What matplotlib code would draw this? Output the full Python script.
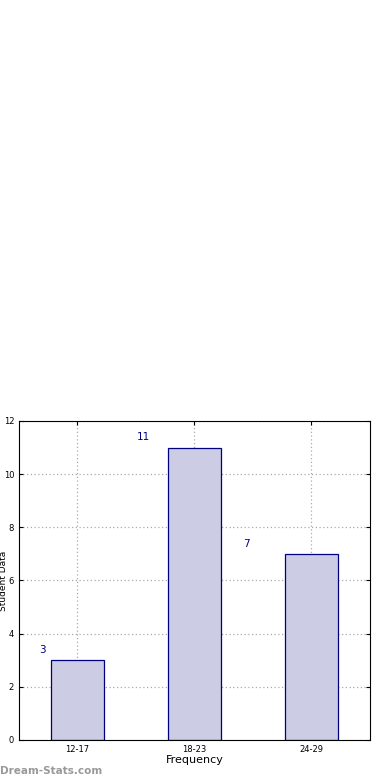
import matplotlib
matplotlib.use('Agg')
import matplotlib.pyplot as plt

# Data
categories = ['12-17', '18-23', '24-29']
counts = [3, 11, 7]
label_shift = [-0.3, -0.44, -0.56]  # where the value labels sit, relative to each bar

fig = plt.figure(figsize=(3.9, 7.8), dpi=100)
ax = fig.add_axes([0.0487, 0.0513, 0.9, 0.409])

positions = list(range(len(categories)))
ax.bar(positions, counts, width=0.45, color='#ccccE4', edgecolor='#000080', linewidth=0.9, zorder=2)

for i, c in enumerate(counts):
    ax.text(i + label_shift[i], c + 0.2, str(c), color='#000080', fontsize=7.5, ha='center', va='bottom')

ax.set_xlim(-0.5, 2.5)
ax.set_ylim(0, 12)
ax.set_xticks(positions)
ax.set_xticklabels(categories)
ax.set_yticks(range(0, 13, 2))
ax.tick_params(axis='both', labelsize=6, direction='in', length=3, top=True, right=True)
ax.grid(True, linestyle=(0, (1, 2)), color='#aaaaaa', linewidth=0.9, zorder=0)
ax.set_axisbelow(True)

ax.set_xlabel('Frequency', fontsize=8, labelpad=1)
ax.set_ylabel('Student Data', fontsize=6.5)
ax.yaxis.set_label_coords(-0.032, 0.5)

fig.text(0.0, 0.008, 'Dream-Stats.com', color='#999999', fontsize=7.5, fontweight='bold')

fig.savefig('out.png', dpi=100)
